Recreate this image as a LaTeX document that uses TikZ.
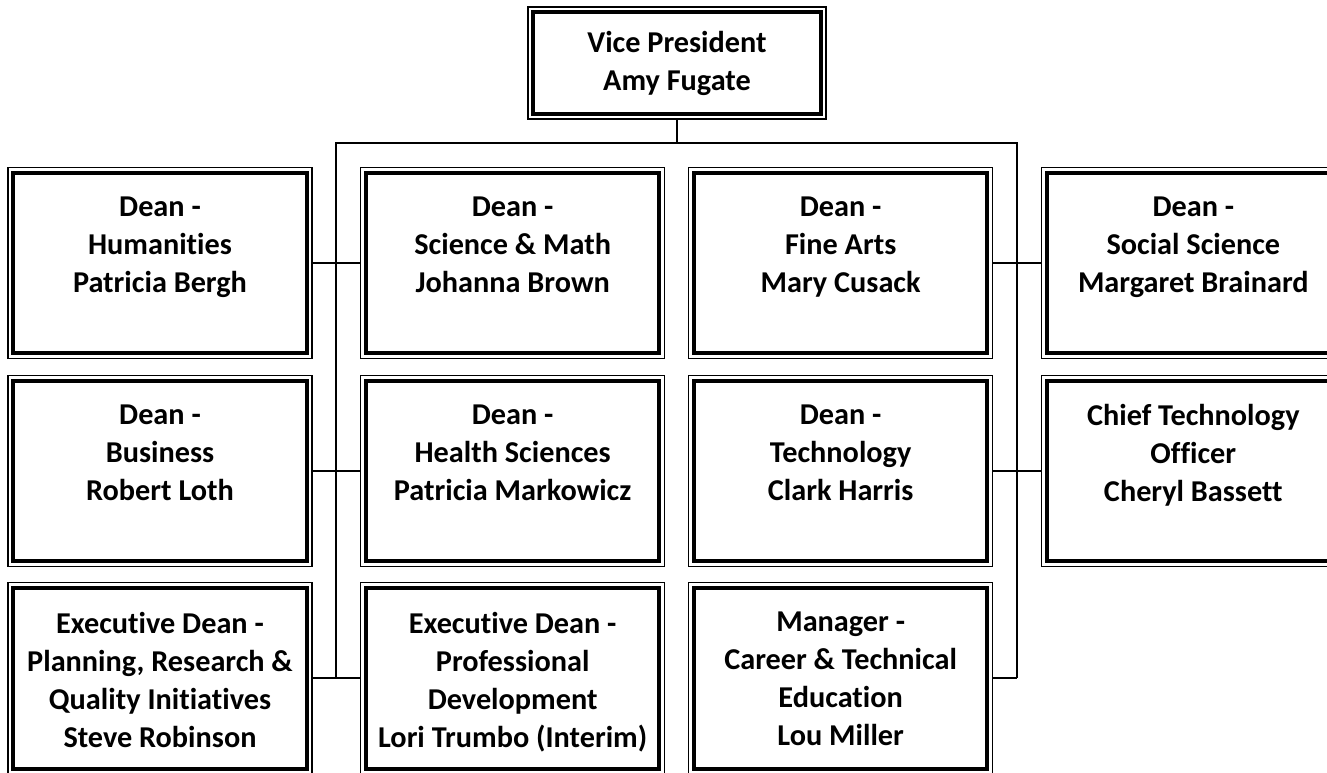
\documentclass[tikz,border=0pt]{standalone}
\usepackage{fontspec}
\setmainfont{Carlito}[Ligatures=NoCommon]
\usetikzlibrary{positioning}

\newcommand{\roletext}[1]{\parbox[c][\dimexpr 4\baselineskip+8pt\relax][t]{226pt}{\vspace*{11.5pt}\centering #1}}

\begin{document}
\begin{tikzpicture}[x=0.75pt, y=-0.75pt, node distance={12.5pt and 36.5pt},
  chart/.style = {draw, line width=0.8pt, inner sep=0pt, outer sep=0pt, align=center,
    font=\bfseries\fontsize{22.7}{28.5}\selectfont},
  dean/.style = {chart, minimum width=228pt, minimum height=143.25pt},
  link/.style = {line width=1.4pt}]
\useasboundingbox (0,0) rectangle (1327,773);
\clip (0,0) rectangle (1327,773);
\node[chart, minimum width=223.5pt, minimum height=84pt] (vp) at (677,63) {Vice President\\Amy Fugate};
% first row
\node[dean] (hum) at (160,263) {\roletext{Dean -\\Humanities\\Patricia Bergh}};
\node[dean, right=of hum] (sci) {\roletext{Dean -\\Science \& Math\\Johanna Brown}};
\node[dean, right=18pt of sci] (fine) {\roletext{Dean -\\Fine Arts\\Mary Cusack}};
\node[dean, right=of fine] (soc) {\roletext{Dean -\\Social Science\\Margaret Brainard}};
% second row
\node[dean, below=of hum] (bus) {\roletext{Dean -\\Business\\Robert Loth}};
\node[dean, below=of sci] (hlth) {\roletext{Dean -\\Health Sciences\\Patricia Markowicz}};
\node[dean, below=of fine] (tech) {\roletext{Dean -\\Technology\\Clark Harris}};
\node[dean, below=of soc] (cto) {\roletext{Chief Technology\\Officer\\Cheryl Bassett}};
% third row
\node[dean, below=of bus] (plan) {\roletext{Executive Dean -\\Planning, Research \&\\Quality Initiatives\\Steve Robinson}};
\node[dean, below=of hlth] (prof) {\roletext{Executive Dean -\\Professional\\Development\\Lori Trumbo (Interim)}};
\node[dean, below=of tech] (career) {\roletext{Manager -\\Career \& Technical\\Education\\Lou Miller}};
% inner frames
\foreach \n in {vp,hum,sci,fine,soc,bus,hlth,tech,cto,plan,prof,career}
  \draw[line width=3pt] ([shift={(4pt,-4pt)}]\n.north west) rectangle ([shift={(-4pt,4pt)}]\n.south east);
% connectors
\coordinate (ltop) at (336,143);
\coordinate (rtop) at (1017,143);
\draw[link] (vp) -- (vp |- ltop);
\draw[link] (ltop |- plan) -- (ltop) -- (rtop) -- (rtop |- career);
\draw[link] (hum) -- (sci);
\draw[link] (bus) -- (hlth);
\draw[link] (plan) -- (prof);
\draw[link] (fine) -- (soc);
\draw[link] (tech) -- (cto);
\draw[link] (career) -- (career -| rtop);
\end{tikzpicture}
\end{document}
